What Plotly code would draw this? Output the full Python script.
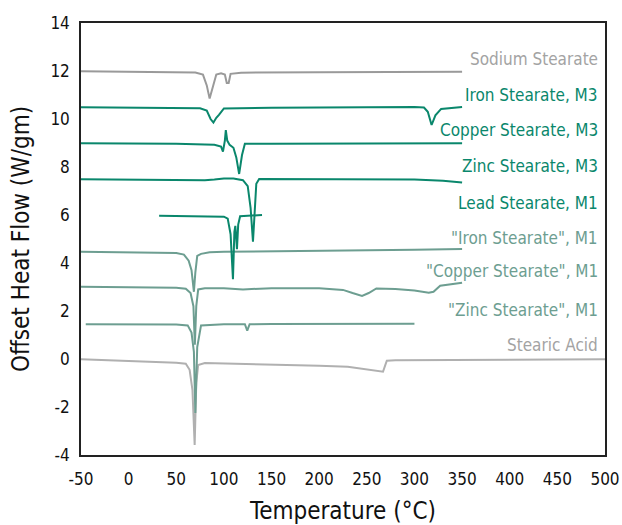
import plotly.graph_objects as go

# DSC traces, offset vertically: temperature (°C) and heat flow (W/gm)
sodium_t = [-50, 0, 50, 70, 78, 82, 85, 88, 92, 97, 101, 103, 105, 107, 112, 118, 200, 300, 350]
sodium_y = [11.99, 11.98, 11.96, 11.94, 11.85, 11.4, 10.85, 11.3, 11.85, 11.9, 11.85, 11.5, 11.5, 11.88, 11.9, 11.93, 11.95, 11.97, 11.97]

iron_m3_t = [-50, 0, 50, 75, 82, 86, 89, 92, 95, 97, 100, 150, 250, 300, 310, 314, 318, 322, 328, 335, 350]
iron_m3_y = [10.49, 10.48, 10.46, 10.45, 10.35, 10.0, 9.85, 10.05, 10.18, 10.3, 10.44, 10.47, 10.5, 10.5, 10.48, 10.3, 9.75, 10.15, 10.42, 10.44, 10.5]

copper_m3_t = [-50, 50, 90, 97, 99, 101, 102, 103.5, 106, 110, 113, 116, 119, 122, 150, 250, 300, 350]
copper_m3_y = [8.99, 8.97, 8.93, 8.85, 8.64, 9.1, 9.54, 9.1, 8.92, 8.8, 8.4, 7.71, 8.5, 8.97, 8.97, 8.99, 8.97, 8.99]

zinc_m3_t = [-50, 0, 50, 80, 90, 100, 110, 120, 125, 128, 130.5, 132, 134, 137, 150, 250, 300, 330, 350]
zinc_m3_y = [7.49, 7.48, 7.46, 7.45, 7.48, 7.52, 7.52, 7.45, 7.2, 6.3, 4.89, 6.0, 7.3, 7.5, 7.5, 7.5, 7.48, 7.43, 7.35]

lead_m1_t = [32, 50, 80, 100, 104, 107, 109.5, 111, 112, 113.7, 115, 117, 125, 140]
lead_m1_y = [5.97, 5.96, 5.95, 5.93, 5.85, 5.2, 3.32, 5.3, 5.55, 4.58, 5.6, 5.95, 5.97, 6.0]

iron_m1_t = [-50, 0, 50, 58, 63, 66, 68.5, 70, 72, 76, 85, 100, 200, 300, 350]
iron_m1_y = [4.47, 4.45, 4.42, 4.35, 4.1, 3.7, 2.8, 3.6, 4.3, 4.38, 4.45, 4.47, 4.5, 4.55, 4.58]

copper_m1_t = [-50, 0, 50, 60, 65, 68, 69.5, 71, 73, 80, 100, 120, 150, 200, 225, 235, 245, 252, 260, 280, 300, 315, 320, 327, 340, 350]
copper_m1_y = [3.01, 2.99, 2.97, 2.93, 2.75, 2.2, 0.6, 2.2, 2.9, 2.95, 2.95, 2.9, 2.95, 2.95, 2.88, 2.75, 2.63, 2.75, 2.94, 2.92, 2.85, 2.76, 2.8, 3.05, 3.12, 3.18]

zinc_m1_t = [-45, 0, 50, 62, 66, 68.5, 70, 72, 76, 100, 122, 124.5, 127, 150, 200, 250, 300]
zinc_m1_y = [1.45, 1.45, 1.44, 1.4, 1.1, 0.3, -2.25, 0.5, 1.4, 1.45, 1.45, 1.18, 1.45, 1.46, 1.46, 1.47, 1.47]

stearic_t = [-50, 0, 50, 60, 64, 67, 69.3, 71, 73, 80, 150, 200, 230, 250, 262, 267, 269, 271, 280, 350, 400, 450, 500]
stearic_y = [-0.01, -0.08, -0.16, -0.2, -0.45, -1.3, -3.58, -1.0, -0.25, -0.17, -0.22, -0.28, -0.32, -0.43, -0.5, -0.53, -0.3, -0.07, -0.05, -0.04, -0.03, -0.02, -0.01]

label_names = ["Sodium Stearate", "Iron Stearate, M3", "Copper Stearate, M3", "Zinc Stearate, M3",
               "Lead Stearate, M1", '"Iron Stearate", M1', '"Copper Stearate", M1',
               '"Zinc Stearate", M1', "Stearic Acid"]
label_y = [12.49, 11.0, 9.54, 8.04, 6.49, 5.03, 3.68, 2.04, 0.58]

x_ticks = [-50, 0, 50, 100, 150, 200, 250, 300, 350, 400, 450, 500]
y_ticks = [-4, -2, 0, 2, 4, 6, 8, 10, 12, 14]

GRAY = "#a3a3a3"
TEAL = "#0a876c"
SAGE = "#6d9e91"
label_colors = [GRAY, TEAL, TEAL, TEAL, TEAL, SAGE, SAGE, SAGE, GRAY]

FONT = "Tahoma, 'DejaVu Sans Condensed', 'DejaVu Sans', sans-serif"

series = [
    (stearic_t, stearic_y, "#b0b0b0"),
    (sodium_t, sodium_y, "#9a9a9a"),
    (iron_m3_t, iron_m3_y, TEAL),
    (copper_m3_t, copper_m3_y, TEAL),
    (zinc_m3_t, zinc_m3_y, TEAL),
    (iron_m1_t, iron_m1_y, SAGE),
    (copper_m1_t, copper_m1_y, SAGE),
    (zinc_m1_t, zinc_m1_y, SAGE),
    (lead_m1_t, lead_m1_y, TEAL),
]

fig = go.Figure()
for t, y, c in series:
    fig.add_trace(go.Scatter(x=t, y=y, mode="lines", line=dict(color=c, width=2),
                             showlegend=False, hoverinfo="skip"))

for name, y, c in zip(label_names, label_y, label_colors):
    fig.add_annotation(x=495, y=y, xref="x", yref="y", text=name, showarrow=False,
                       xanchor="right", yanchor="middle",
                       font=dict(family=FONT, size=17, color=c))

axis_common = dict(showgrid=False, zeroline=False, showline=True, linecolor="#222",
                   linewidth=1.5, mirror=True, ticks="", automargin=False,
                   tickfont=dict(family=FONT, size=17, color="#111"))

fig.update_xaxes(range=[-50, 500], tickvals=x_ticks, ticktext=[str(v) for v in x_ticks],
                 ticklabelstandoff=8,
                 title=dict(text="Temperature (°C)", font=dict(family=FONT, size=24, color="#111"), standoff=20),
                 **axis_common)
fig.update_yaxes(range=[-4, 14], tickvals=y_ticks, ticktext=[str(v) for v in y_ticks],
                 ticklabelstandoff=6,
                 title=dict(text="Offset Heat Flow (W/gm)", font=dict(family=FONT, size=24, color="#111"), standoff=14),
                 **axis_common)

fig.update_layout(template="none", width=622, height=525, margin=dict(l=81, r=17, t=23, b=70),
                  plot_bgcolor="white", paper_bgcolor="white")

fig.write_html("out.html")
